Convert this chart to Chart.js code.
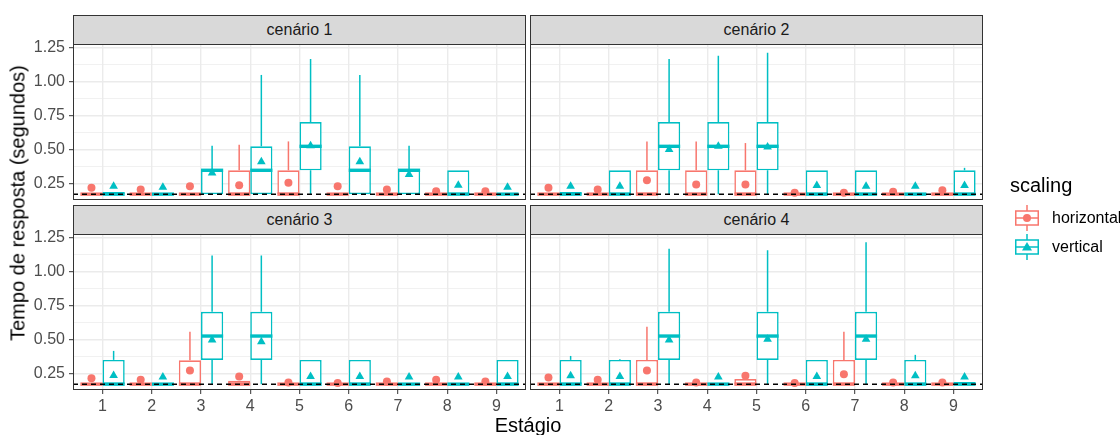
<!DOCTYPE html>
<html>
<head>
<meta charset="utf-8">
<script src="https://cdn.jsdelivr.net/npm/chart.js@4.4.1/dist/chart.umd.min.js"></script>
<style>
  body { margin: 0; background: #fff; font-family: "Liberation Sans", Arial, sans-serif; }
  #wrap { position: relative; width: 1120px; height: 435px; overflow: hidden; }
  #wrap canvas { position: absolute; left: 0; top: 0; }
  .strip { position: absolute; height: 30px; background: #d9d9d9; border: 1px solid #333;
           box-sizing: border-box; text-align: center; line-height: 28px; font-size: 16px; color: #1a1a1a; }
  .ytitle { position: absolute; left: 18px; top: 203px; font-size: 20px; white-space: nowrap;
            transform: translate(-50%, -50%) rotate(-90deg); }
  .xtitle { position: absolute; left: 528px; top: 415px; font-size: 20px; line-height: 20px;
            transform: translateX(-50%); white-space: nowrap; }
  .legend-title { position: absolute; left: 1010px; top: 174px; font-size: 20px; line-height: 22px; }
  .key { position: absolute; left: 1012px; }
  .key-label { position: absolute; left: 1052px; font-size: 16px; line-height: 18px; }
</style>
</head>
<body>
<div id="wrap">
  <canvas id="p0" width="1120" height="435"></canvas>
  <canvas id="p1" width="1120" height="435"></canvas>
  <canvas id="p2" width="1120" height="435"></canvas>
  <canvas id="p3" width="1120" height="435"></canvas>
</div>
<script>
// ---- data ----
const stages = ['1', '2', '3', '4', '5', '6', '7', '8', '9'];
const scenarios = ['cenário 1', 'cenário 2', 'cenário 3', 'cenário 4'];
const seriesNames = ['horizontal', 'vertical'];
const referenceLine = 0.175;
const yTicks = [0.25, 0.5, 0.75, 1.0, 1.25];

// each row: [lower whisker, q1, median, q3, upper whisker], one row per stage
const c1Horizontal = [
  [.175, .175, .175, .175, .175], [.175, .175, .175, .175, .175], [.175, .175, .175, .175, .175],
  [.175, .175, .175, .35, .538], [.175, .175, .175, .35, .562], [.175, .175, .175, .175, .175],
  [.175, .175, .175, .175, .175], [.175, .175, .175, .175, .175], [.175, .175, .175, .175, .175]
];
const c1HorizontalMean = [.221, .209, .233, .24, .258, .233, .209, .197, .197];
const c1Vertical = [
  [.175, .175, .175, .19, .19], [.175, .175, .175, .175, .175], [.175, .175, .35, .35, .531],
  [.175, .175, .35, .526, 1.05], [.175, .35, .526, .704, 1.167], [.175, .175, .35, .526, 1.05],
  [.175, .175, .35, .35, .531], [.175, .175, .175, .35, .35], [.175, .175, .175, .175, .175]
];
const c1VerticalMean = [.233, .226, .331, .412, .531, .412, .319, .24, .226];

const c2Horizontal = [
  [.175, .175, .175, .175, .175], [.175, .175, .175, .175, .175], [.175, .175, .175, .35, .562],
  [.175, .175, .175, .35, .562], [.175, .175, .175, .35, .55], [.175, .175, .175, .175, .175],
  [.175, .175, .175, .175, .175], [.175, .175, .175, .175, .175], [.175, .175, .175, .175, .175]
];
const c2HorizontalMean = [.221, .209, .277, .246, .246, .185, .185, .192, .204];
const c2Vertical = [
  [.175, .175, .175, .19, .19], [.175, .175, .175, .35, .35], [.175, .35, .526, .704, 1.167],
  [.175, .35, .526, .704, 1.191], [.175, .35, .526, .704, 1.213], [.175, .175, .175, .35, .35],
  [.175, .175, .175, .35, .35], [.175, .175, .175, .185, .185], [.175, .175, .175, .35, .368]
];
const c2VerticalMean = [.233, .233, .502, .526, .521, .238, .233, .233, .238];

const c3Horizontal = [
  [.175, .175, .175, .175, .175], [.175, .175, .175, .175, .175], [.175, .175, .175, .35, .56],
  [.175, .175, .175, .2, .2], [.175, .175, .175, .175, .175], [.175, .175, .175, .175, .175],
  [.175, .175, .175, .175, .175], [.175, .175, .175, .175, .175], [.175, .175, .175, .175, .175]
];
const c3HorizontalMean = [.219, .207, .275, .231, .187, .183, .194, .207, .194];
const c3Vertical = [
  [.175, .175, .175, .353, .419], [.175, .175, .175, .175, .175], [.175, .353, .528, .706, 1.12],
  [.175, .353, .528, .706, 1.12], [.175, .175, .175, .353, .353], [.175, .175, .175, .353, .353],
  [.175, .175, .175, .175, .175], [.175, .175, .175, .175, .175], [.175, .175, .175, .353, .353]
];
const c3VerticalMean = [.238, .227, .499, .487, .231, .231, .227, .227, .231];

const c4Horizontal = [
  [.175, .175, .175, .175, .175], [.175, .175, .175, .175, .175], [.175, .175, .175, .353, .596],
  [.175, .175, .175, .175, .175], [.175, .175, .175, .212, .212], [.175, .175, .175, .175, .175],
  [.175, .175, .175, .353, .56], [.175, .175, .175, .175, .175], [.175, .175, .175, .175, .175]
];
const c4HorizontalMean = [.224, .207, .275, .187, .236, .183, .248, .187, .187];
const c4Vertical = [
  [.175, .175, .175, .353, .382], [.175, .175, .175, .353, .358], [.175, .353, .528, .706, 1.169],
  [.175, .175, .175, .185, .185], [.175, .353, .528, .706, 1.157], [.175, .175, .175, .353, .353],
  [.175, .353, .528, .706, 1.217], [.175, .175, .175, .353, .39], [.175, .175, .175, .19, .19]
];
const c4VerticalMean = [.236, .231, .499, .227, .504, .231, .504, .236, .227];

// ---- layout / style ----
const COLORS = ['#F8766D', '#00BFC4'];
const FONT = '"Liberation Sans", Arial, sans-serif';
const Y_MIN = 0.132, Y_MAX = 1.277;
const BOX_FRACTION = 0.9;               // dodged pair takes 0.9 of a stage
const DODGE = BOX_FRACTION / 4;         // centre offset of each box
const panels = [
  { left: 73, right: 526, top: 44, bottom: 200, yLabels: true, xLabels: false },
  { left: 530, right: 983, top: 44, bottom: 200, yLabels: false, xLabels: false },
  { left: 73, right: 526, top: 234, bottom: 390, yLabels: true, xLabels: true },
  { left: 530, right: 983, top: 234, bottom: 390, yLabels: false, xLabels: true }
];
const panelData = [
  [c1Horizontal, c1Vertical, c1HorizontalMean, c1VerticalMean],
  [c2Horizontal, c2Vertical, c2HorizontalMean, c2VerticalMean],
  [c3Horizontal, c3Vertical, c3HorizontalMean, c3VerticalMean],
  [c4Horizontal, c4Vertical, c4HorizontalMean, c4VerticalMean]
];

const isMajor = v => yTicks.some(t => Math.abs(t - v) < 1e-6);

const boxPlugin = {
  id: 'boxes',
  afterDatasetDraw(chart, args) {
    const ds = chart.data.datasets[args.index];
    if (!ds.stats) return;
    const ctx = chart.ctx, y = chart.scales.y;
    ctx.save();
    ctx.strokeStyle = ds.borderColor;
    args.meta.data.forEach((bar, i) => {
      const [lo, q1, med, q3, hi] = ds.stats[i];
      const x = bar.x, half = bar.width / 2;
      ctx.lineWidth = 1.5;
      ctx.beginPath();
      if (hi > q3) { ctx.moveTo(x, y.getPixelForValue(q3)); ctx.lineTo(x, y.getPixelForValue(hi)); }
      if (lo < q1) { ctx.moveTo(x, y.getPixelForValue(q1)); ctx.lineTo(x, y.getPixelForValue(lo)); }
      ctx.stroke();
      const ym = y.getPixelForValue(med);
      ctx.lineWidth = 3.4;
      ctx.beginPath();
      ctx.moveTo(x - half, ym);
      ctx.lineTo(x + half, ym);
      ctx.stroke();
    });
    ctx.restore();
  },
  afterDatasetsDraw(chart) {
    const ctx = chart.ctx, a = chart.chartArea;
    const yRef = chart.scales.y.getPixelForValue(referenceLine);
    ctx.save();
    ctx.strokeStyle = '#000';
    ctx.lineWidth = 1.5;
    ctx.setLineDash([5, 4]);
    ctx.beginPath();
    ctx.moveTo(a.left, yRef);
    ctx.lineTo(a.right, yRef);
    ctx.stroke();
    ctx.setLineDash([]);
    ctx.strokeStyle = '#333';
    ctx.lineWidth = 1;
    ctx.strokeRect(a.left + 0.5, a.top + 0.5, a.right - a.left - 1, a.bottom - a.top - 1);
    ctx.restore();
  }
};

function makePanel(idx) {
  const p = panels[idx];
  const [hBox, vBox, hMean, vMean] = panelData[idx];
  const boxes = [hBox, vBox], means = [hMean, vMean];
  const Y_AXIS_W = 40, X_AXIS_H = 30;
  const datasets = [];
  seriesNames.forEach((name, s) => {
    datasets.push({
      type: 'line', label: name + ' (média)', order: 0, showLine: false,
      data: stages.map((st, i) => ({ x: i + 1 + (s ? DODGE : -DODGE), y: means[s][i] })),
      pointStyle: s ? 'triangle' : 'circle', pointRadius: s ? 5 : 4, pointBorderWidth: 0,
      pointBackgroundColor: COLORS[s], borderColor: COLORS[s]
    });
  });
  seriesNames.forEach((name, s) => {
    datasets.push({
      type: 'bar', label: name, order: 1, stats: boxes[s],
      data: stages.map((st, i) => ({ x: i + 1, y: [boxes[s][i][1], boxes[s][i][3]] })),
      backgroundColor: '#fff', borderColor: COLORS[s], borderWidth: 1.6, borderSkipped: false,
      categoryPercentage: BOX_FRACTION, barPercentage: 1
    });
  });

  new Chart(document.getElementById('p' + idx), {
    type: 'bar',
    data: { datasets },
    options: {
      responsive: false, animation: false, events: [],
      layout: {
        padding: {
          left: p.left - (p.yLabels ? Y_AXIS_W : 0),
          right: 1120 - p.right,
          top: p.top,
          bottom: 435 - p.bottom - (p.xLabels ? X_AXIS_H : 0)
        }
      },
      plugins: { legend: { display: false }, tooltip: { enabled: false } },
      scales: {
        x: {
          type: 'linear', min: 0.4, max: 9.6, offset: false,
          afterFit: sc => { sc.height = p.xLabels ? X_AXIS_H : 0; },
          border: { display: false },
          grid: { offset: false, color: '#EBEBEB', lineWidth: 1.4, drawTicks: p.xLabels,
                  tickLength: 4, tickColor: '#333', tickWidth: 1 },
          ticks: { display: p.xLabels, stepSize: 1, includeBounds: false, autoSkip: false,
                   maxRotation: 0, padding: 3, color: '#4D4D4D', font: { family: FONT, size: 16 },
                   callback: v => stages[Math.round(v) - 1] }
        },
        y: {
          min: Y_MIN, max: Y_MAX, beginAtZero: false,
          afterFit: sc => { sc.width = p.yLabels ? Y_AXIS_W : 0; },
          border: { display: false },
          grid: {
            color: '#EBEBEB',
            lineWidth: c => (c.tick && isMajor(c.tick.value)) ? 1.4 : 0.7,
            drawTicks: p.yLabels, tickLength: 4, tickWidth: 1,
            tickColor: c => (c.tick && isMajor(c.tick.value)) ? '#333' : 'rgba(0,0,0,0)'
          },
          ticks: { display: p.yLabels, stepSize: 0.125, includeBounds: false, autoSkip: false,
                   padding: 4, color: '#4D4D4D', font: { family: FONT, size: 16 },
                   callback: v => isMajor(v) ? v.toFixed(2) : '' }
        }
      }
    },
    plugins: [boxPlugin]
  });
}

panels.forEach((p, i) => makePanel(i));

// strips, titles and legend
const wrap = document.getElementById('wrap');
panels.forEach((p, i) => {
  const d = document.createElement('div');
  d.className = 'strip';
  d.style.left = p.left + 'px';
  d.style.top = (p.top - 29) + 'px';
  d.style.width = (p.right - p.left) + 'px';
  d.textContent = scenarios[i];
  wrap.appendChild(d);
});

function addDiv(cls, text, top) {
  const d = document.createElement('div');
  d.className = cls;
  d.textContent = text;
  if (top !== undefined) d.style.top = top + 'px';
  wrap.appendChild(d);
  return d;
}
addDiv('ytitle', 'Tempo de resposta (segundos)');
addDiv('xtitle', 'Estágio');
addDiv('legend-title', 'scaling');

seriesNames.forEach((name, s) => {
  const cy = s ? 247 : 218;
  const c = COLORS[s];
  const mark = s
    ? `<polygon points="15,9 20,17.5 10,17.5" fill="${c}"/>`
    : `<circle cx="15" cy="14" r="4" fill="${c}"/>`;
  const key = document.createElement('div');
  key.className = 'key';
  key.style.top = (cy - 14) + 'px';
  key.innerHTML = `<svg width="30" height="28" viewBox="0 0 30 28">
    <line x1="15" y1="1" x2="15" y2="7" stroke="${c}" stroke-width="1.5"/>
    <line x1="15" y1="21" x2="15" y2="27" stroke="${c}" stroke-width="1.5"/>
    <rect x="3.75" y="7" width="22.5" height="14" fill="#fff" stroke="${c}" stroke-width="1.5"/>
    <line x1="3.75" y1="14" x2="26.25" y2="14" stroke="${c}" stroke-width="1.5"/>
    ${mark}</svg>`;
  wrap.appendChild(key);
  addDiv('key-label', name, cy - 9);
});
</script>
</body>
</html>
